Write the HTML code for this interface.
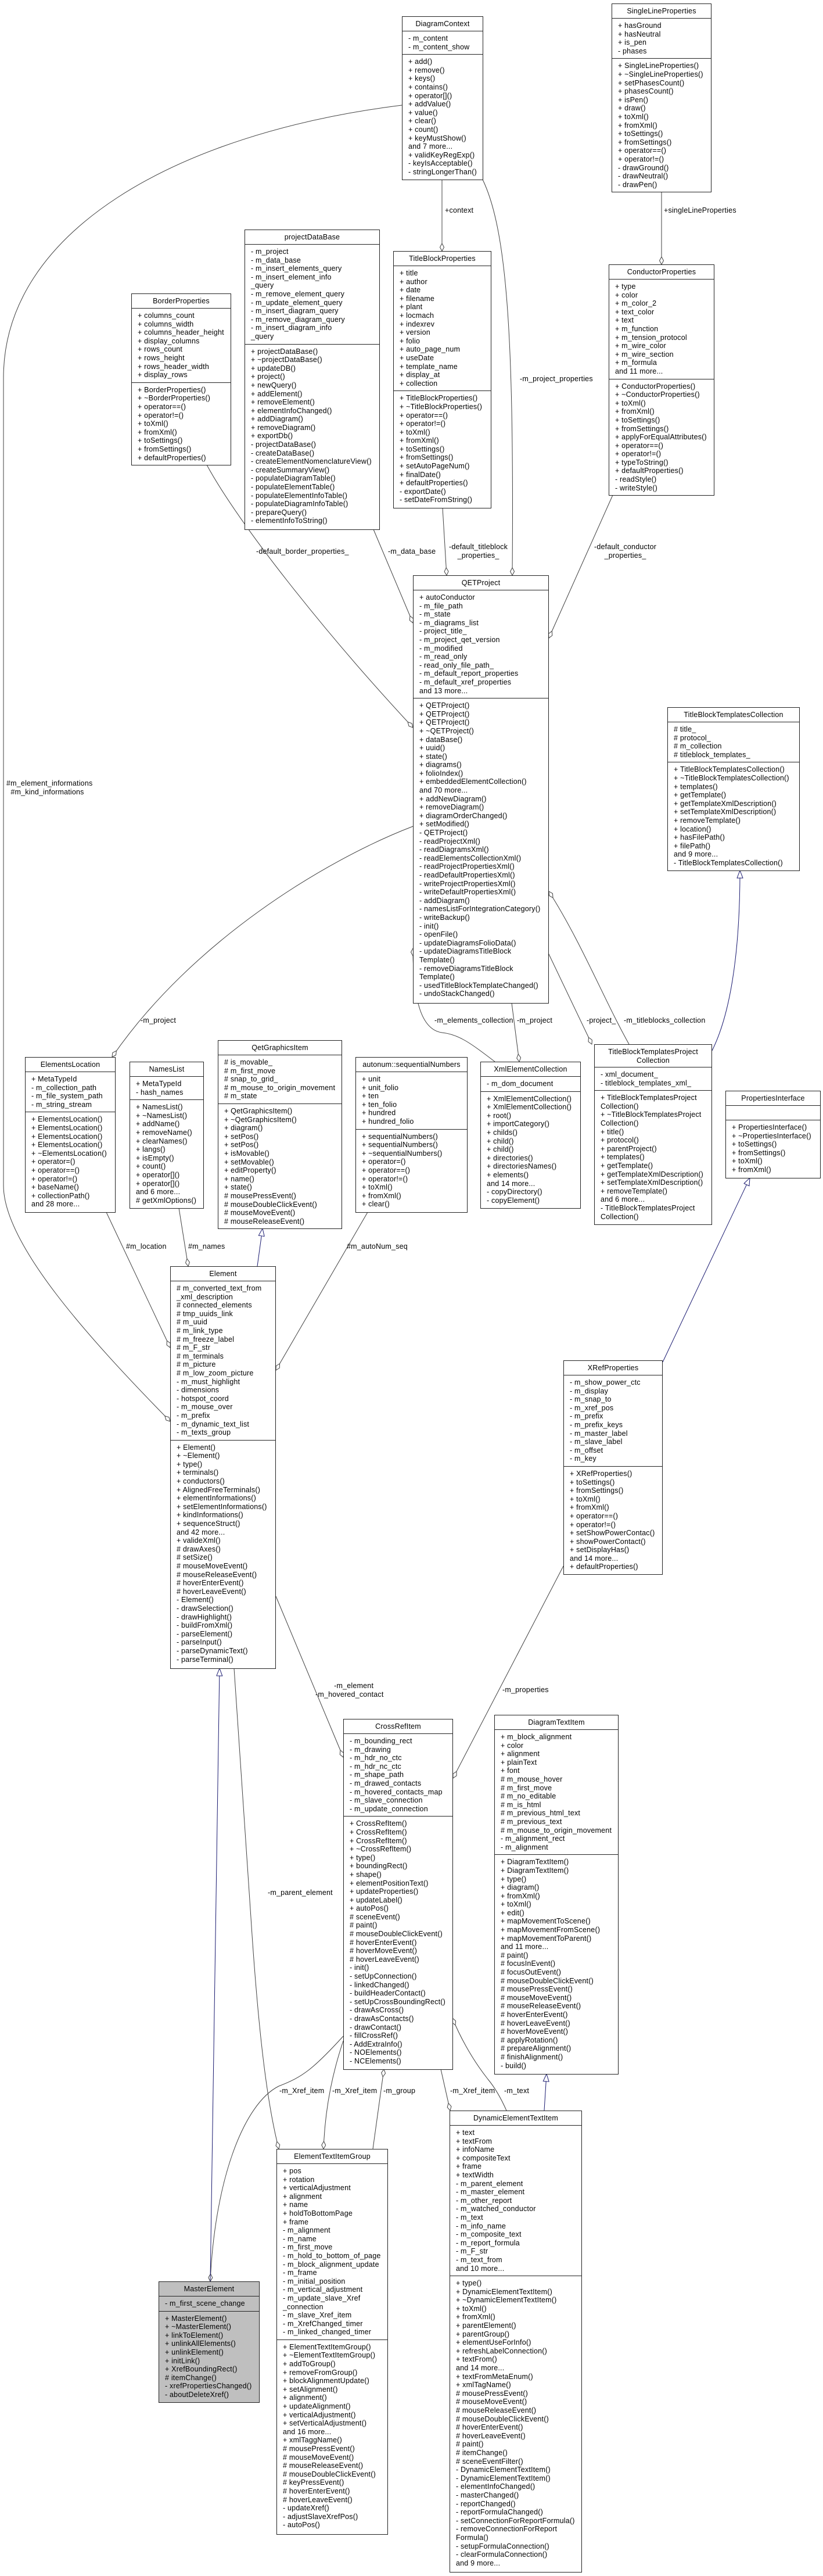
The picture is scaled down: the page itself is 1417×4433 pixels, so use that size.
<!DOCTYPE html>
<html><head><meta charset="utf-8">
<style>
body{margin:0;background:#fff;}
#c{position:relative;width:1417px;height:4433px;overflow:hidden;background:#fff;font-family:"Liberation Sans",sans-serif;}
.b{position:absolute;border:1px solid #222;background:#fff;font-size:12.5px;letter-spacing:.2px;display:flex;flex-direction:column;box-sizing:border-box;color:#000}
.h{height:24px;line-height:24px;text-align:center;border-bottom:1px solid #222;flex:none;white-space:nowrap}
.s{padding:5px 0 5px 10px;line-height:14.6px;white-space:nowrap;border-bottom:1px solid #222;flex:none}
.s:last-child{flex:1;border-bottom:none}
.l{position:absolute;font-size:12.5px;letter-spacing:.2px;white-space:nowrap;line-height:14.6px;color:#000}
svg{position:absolute;left:0;top:0}
</style></head><body><div id="c">
<svg width="1417" height="4433">
<defs>
<marker id="d" markerUnits="userSpaceOnUse" markerWidth="14" markerHeight="8" viewBox="0 0 14 8" refX="13.5" refY="4" orient="auto"><polygon points="0.5,4 7,0.5 13.5,4 7,7.5" fill="#fff" stroke="#404040" stroke-width="1"/></marker>
<marker id="t" markerUnits="userSpaceOnUse" markerWidth="14" markerHeight="11" viewBox="0 0 14 11" refX="13.5" refY="5.5" orient="auto"><polygon points="0.5,0.5 13.5,5.5 0.5,10.5" fill="#fff" stroke="#191970" stroke-width="1"/></marker>
</defs>
<g fill="none" stroke="#404040" stroke-width="1">
<path d="M692,181 C300,230 6,400 6,650 L6,2040 C6,2140 150,2300 293,2446" marker-end="url(#d)"/>
<path d="M643,911 L711,1072" marker-end="url(#d)"/>
<path d="M356,800 C410,900 560,1090 711,1252" marker-end="url(#d)"/>
<path d="M762,874 L769,990" marker-end="url(#d)"/>
<path d="M761,309 L761,432" marker-end="url(#d)"/>
<path d="M831,309 C875,400 885,600 882,990" marker-end="url(#d)"/>
<path d="M1139,330 L1139,455" marker-end="url(#d)"/>
<path d="M1055,852 L945,1098" marker-end="url(#d)"/>
<path d="M711,1422 C560,1480 330,1620 193,1819" marker-end="url(#d)"/>
<path d="M852,1827 C810,1795 790,1780 761,1777 C725,1772 711,1720 711,1632" marker-end="url(#d)"/>
<path d="M881,1726 L894,1827" marker-end="url(#d)"/>
<path d="M1083,1797 C1040,1720 1000,1620 945,1534" marker-end="url(#d)"/>
<path d="M944,1640 L1019,1797" marker-end="url(#d)"/>
<path d="M183,2086 L293,2319" marker-end="url(#d)"/>
<path d="M308,2079 L324,2179" marker-end="url(#d)"/>
<path d="M633,2086 L475,2358" marker-end="url(#d)"/>
<path d="M475,2747 L591,3024" marker-end="url(#d)"/>
<path d="M403,2871 L432,3300 C445,3500 460,3620 480,3698" marker-end="url(#d)"/>
<path d="M591,3504 C540,3560 520,3575 480,3590 C420,3620 370,3750 362,3926" marker-end="url(#d)"/>
<path d="M591,3512 C575,3560 560,3620 557,3698" marker-end="url(#d)"/>
<path d="M642,3698 L661,3561" marker-end="url(#d)"/>
<path d="M872,3632 C860,3605 850,3590 840,3578 C810,3540 790,3500 779,3473" marker-end="url(#d)"/>
<path d="M759,3561 L775,3632" marker-end="url(#d)"/>
<path d="M970,2695 L780,3060" marker-end="url(#d)"/>
</g>
<g fill="none" stroke="#191970" stroke-width="1">
<path d="M1226,1808 C1255,1750 1274,1650 1274,1498" marker-end="url(#t)"/>
<path d="M1141,2344 L1291,2027" marker-end="url(#t)"/>
<path d="M443,2179 L452,2114" marker-end="url(#t)"/>
<path d="M362,3926 L378,2871" marker-end="url(#t)"/>
<path d="M937,3632 L941,3569" marker-end="url(#t)"/>
</g>
</svg>

<div class="l" style="left:766px;top:355px">+context</div>
<div class="l" style="left:1143px;top:355px">+singleLineProperties</div>
<div class="l" style="left:895px;top:645px">-m_project_properties</div>
<div class="l" style="left:773px;top:934px;text-align:center">-default_titleblock<br>_properties_</div>
<div class="l" style="left:1023px;top:934px;text-align:center">-default_conductor<br>_properties_</div>
<div class="l" style="left:441px;top:942px">-default_border_properties_</div>
<div class="l" style="left:668px;top:942px">-m_data_base</div>
<div class="l" style="left:11px;top:1341px">#m_element_informations<br>&nbsp;&nbsp;#m_kind_informations</div>
<div class="l" style="left:242px;top:1749px">-m_project</div>
<div class="l" style="left:748px;top:1749px">-m_elements_collection</div>
<div class="l" style="left:890px;top:1749px">-m_project</div>
<div class="l" style="left:1010px;top:1749px">-project_</div>
<div class="l" style="left:1074px;top:1749px">-m_titleblocks_collection</div>
<div class="l" style="left:217px;top:2138px">#m_location</div>
<div class="l" style="left:324px;top:2138px">#m_names</div>
<div class="l" style="left:597px;top:2138px">#m_autoNum_seq</div>
<div class="l" style="left:543px;top:2894px;text-align:center">&nbsp;&nbsp;&nbsp;&nbsp;-m_element<br>-m_hovered_contact</div>
<div class="l" style="left:865px;top:2901px">-m_properties</div>
<div class="l" style="left:461px;top:3250px">-m_parent_element</div>
<div class="l" style="left:481px;top:3591px">-m_Xref_item</div>
<div class="l" style="left:572px;top:3591px">-m_Xref_item</div>
<div class="l" style="left:660px;top:3591px">-m_group</div>
<div class="l" style="left:775px;top:3591px">-m_Xref_item</div>
<div class="l" style="left:868px;top:3591px">-m_text</div>

<div class="b" style="left:692px;top:28px;width:140px;height:282px"><div class="h">DiagramContext</div>
<div class="s">- m_content<br>- m_content_show</div>
<div class="s">+ add()<br>+ remove()<br>+ keys()<br>+ contains()<br>+ operator[]()<br>+ addValue()<br>+ value()<br>+ clear()<br>+ count()<br>+ keyMustShow()<br>and 7 more...<br>+ validKeyRegExp()<br>- keyIsAcceptable()<br>- stringLongerThan()</div></div>

<div class="b" style="left:1053px;top:6px;width:172px;height:325px"><div class="h">SingleLineProperties</div>
<div class="s">+ hasGround<br>+ hasNeutral<br>+ is_pen<br>- phases</div>
<div class="s">+ SingleLineProperties()<br>+ ~SingleLineProperties()<br>+ setPhasesCount()<br>+ phasesCount()<br>+ isPen()<br>+ draw()<br>+ toXml()<br>+ fromXml()<br>+ toSettings()<br>+ fromSettings()<br>+ operator==()<br>+ operator!=()<br>- drawGround()<br>- drawNeutral()<br>- drawPen()</div></div>

<div class="b" style="left:677px;top:432px;width:169px;height:443px"><div class="h">TitleBlockProperties</div>
<div class="s">+ title<br>+ author<br>+ date<br>+ filename<br>+ plant<br>+ locmach<br>+ indexrev<br>+ version<br>+ folio<br>+ auto_page_num<br>+ useDate<br>+ template_name<br>+ display_at<br>+ collection</div>
<div class="s">+ TitleBlockProperties()<br>+ ~TitleBlockProperties()<br>+ operator==()<br>+ operator!=()<br>+ toXml()<br>+ fromXml()<br>+ toSettings()<br>+ fromSettings()<br>+ setAutoPageNum()<br>+ finalDate()<br>+ defaultProperties()<br>- exportDate()<br>- setDateFromString()</div></div>

<div class="b" style="left:226px;top:505px;width:172px;height:296px"><div class="h">BorderProperties</div>
<div class="s">+ columns_count<br>+ columns_width<br>+ columns_header_height<br>+ display_columns<br>+ rows_count<br>+ rows_height<br>+ rows_header_width<br>+ display_rows</div>
<div class="s">+ BorderProperties()<br>+ ~BorderProperties()<br>+ operator==()<br>+ operator!=()<br>+ toXml()<br>+ fromXml()<br>+ toSettings()<br>+ fromSettings()<br>+ defaultProperties()</div></div>

<div class="b" style="left:421px;top:395px;width:233px;height:517px"><div class="h">projectDataBase</div>
<div class="s">- m_project<br>- m_data_base<br>- m_insert_elements_query<br>- m_insert_element_info<br>_query<br>- m_remove_element_query<br>- m_update_element_query<br>- m_insert_diagram_query<br>- m_remove_diagram_query<br>- m_insert_diagram_info<br>_query</div>
<div class="s">+ projectDataBase()<br>+ ~projectDataBase()<br>+ updateDB()<br>+ project()<br>+ newQuery()<br>+ addElement()<br>+ removeElement()<br>+ elementInfoChanged()<br>+ addDiagram()<br>+ removeDiagram()<br>+ exportDb()<br>- projectDataBase()<br>- createDataBase()<br>- createElementNomenclatureView()<br>- createSummaryView()<br>- populateDiagramTable()<br>- populateElementTable()<br>- populateElementInfoTable()<br>- populateDiagramInfoTable()<br>- prepareQuery()<br>- elementInfoToString()</div></div>

<div class="b" style="left:1048px;top:455px;width:182px;height:398px"><div class="h">ConductorProperties</div>
<div class="s">+ type<br>+ color<br>+ m_color_2<br>+ text_color<br>+ text<br>+ m_function<br>+ m_tension_protocol<br>+ m_wire_color<br>+ m_wire_section<br>+ m_formula<br>and 11 more...</div>
<div class="s">+ ConductorProperties()<br>+ ~ConductorProperties()<br>+ toXml()<br>+ fromXml()<br>+ toSettings()<br>+ fromSettings()<br>+ applyForEqualAttributes()<br>+ operator==()<br>+ operator!=()<br>+ typeToString()<br>+ defaultProperties()<br>- readStyle()<br>- writeStyle()</div></div>

<div class="b" style="left:711px;top:990px;width:234px;height:737px"><div class="h">QETProject</div>
<div class="s">+ autoConductor<br>- m_file_path<br>- m_state<br>- m_diagrams_list<br>- project_title_<br>- m_project_qet_version<br>- m_modified<br>- m_read_only<br>- read_only_file_path_<br>- m_default_report_properties<br>- m_default_xref_properties<br>and 13 more...</div>
<div class="s">+ QETProject()<br>+ QETProject()<br>+ QETProject()<br>+ ~QETProject()<br>+ dataBase()<br>+ uuid()<br>+ state()<br>+ diagrams()<br>+ folioIndex()<br>+ embeddedElementCollection()<br>and 70 more...<br>+ addNewDiagram()<br>+ removeDiagram()<br>+ diagramOrderChanged()<br>+ setModified()<br>- QETProject()<br>- readProjectXml()<br>- readDiagramsXml()<br>- readElementsCollectionXml()<br>- readProjectPropertiesXml()<br>- readDefaultPropertiesXml()<br>- writeProjectPropertiesXml()<br>- writeDefaultPropertiesXml()<br>- addDiagram()<br>- namesListForIntegrationCategory()<br>- writeBackup()<br>- init()<br>- openFile()<br>- updateDiagramsFolioData()<br>- updateDiagramsTitleBlock<br>Template()<br>- removeDiagramsTitleBlock<br>Template()<br>- usedTitleBlockTemplateChanged()<br>- undoStackChanged()</div></div>

<div class="b" style="left:1149px;top:1217px;width:228px;height:282px"><div class="h">TitleBlockTemplatesCollection</div>
<div class="s"># title_<br># protocol_<br># m_collection<br># titleblock_templates_</div>
<div class="s">+ TitleBlockTemplatesCollection()<br>+ ~TitleBlockTemplatesCollection()<br>+ templates()<br>+ getTemplate()<br>+ getTemplateXmlDescription()<br>+ setTemplateXmlDescription()<br>+ removeTemplate()<br>+ location()<br>+ hasFilePath()<br>+ filePath()<br>and 9 more...<br>- TitleBlockTemplatesCollection()</div></div>

<div class="b" style="left:43px;top:1819px;width:156px;height:268px"><div class="h">ElementsLocation</div>
<div class="s">+ MetaTypeId<br>- m_collection_path<br>- m_file_system_path<br>- m_string_stream</div>
<div class="s">+ ElementsLocation()<br>+ ElementsLocation()<br>+ ElementsLocation()<br>+ ElementsLocation()<br>+ ~ElementsLocation()<br>+ operator=()<br>+ operator==()<br>+ operator!=()<br>+ baseName()<br>+ collectionPath()<br>and 28 more...</div></div>

<div class="b" style="left:223px;top:1827px;width:128px;height:253px"><div class="h">NamesList</div>
<div class="s">+ MetaTypeId<br>- hash_names</div>
<div class="s">+ NamesList()<br>+ ~NamesList()<br>+ addName()<br>+ removeName()<br>+ clearNames()<br>+ langs()<br>+ isEmpty()<br>+ count()<br>+ operator[]()<br>+ operator[]()<br>and 6 more...<br># getXmlOptions()</div></div>

<div class="b" style="left:375px;top:1790px;width:214px;height:325px"><div class="h">QetGraphicsItem</div>
<div class="s"># is_movable_<br># m_first_move<br># snap_to_grid_<br># m_mouse_to_origin_movement<br># m_state</div>
<div class="s">+ QetGraphicsItem()<br>+ ~QetGraphicsItem()<br>+ diagram()<br>+ setPos()<br>+ setPos()<br>+ isMovable()<br>+ setMovable()<br>+ editProperty()<br>+ name()<br>+ state()<br># mousePressEvent()<br># mouseDoubleClickEvent()<br># mouseMoveEvent()<br># mouseReleaseEvent()</div></div>

<div class="b" style="left:612px;top:1819px;width:193px;height:268px"><div class="h">autonum::sequentialNumbers</div>
<div class="s">+ unit<br>+ unit_folio<br>+ ten<br>+ ten_folio<br>+ hundred<br>+ hundred_folio</div>
<div class="s">+ sequentialNumbers()<br>+ sequentialNumbers()<br>+ ~sequentialNumbers()<br>+ operator=()<br>+ operator==()<br>+ operator!=()<br>+ toXml()<br>+ fromXml()<br>+ clear()</div></div>

<div class="b" style="left:827px;top:1827px;width:173px;height:253px"><div class="h">XmlElementCollection</div>
<div class="s">- m_dom_document</div>
<div class="s">+ XmlElementCollection()<br>+ XmlElementCollection()<br>+ root()<br>+ importCategory()<br>+ childs()<br>+ child()<br>+ child()<br>+ directories()<br>+ directoriesNames()<br>+ elements()<br>and 14 more...<br>- copyDirectory()<br>- copyElement()</div></div>

<div class="b" style="left:1023px;top:1797px;width:203px;height:311px"><div class="h" style="height:39px;line-height:14.6px;padding-top:5px;box-sizing:border-box">TitleBlockTemplatesProject<br>Collection</div>
<div class="s">- xml_document_<br>- titleblock_templates_xml_</div>
<div class="s">+ TitleBlockTemplatesProject<br>Collection()<br>+ ~TitleBlockTemplatesProject<br>Collection()<br>+ title()<br>+ protocol()<br>+ parentProject()<br>+ templates()<br>+ getTemplate()<br>+ getTemplateXmlDescription()<br>+ setTemplateXmlDescription()<br>+ removeTemplate()<br>and 6 more...<br>- TitleBlockTemplatesProject<br>Collection()</div></div>

<div class="b" style="left:1249px;top:1877px;width:164px;height:151px"><div class="h">PropertiesInterface</div>
<div class="s" style="height:25px;box-sizing:border-box"></div>
<div class="s">+ PropertiesInterface()<br>+ ~PropertiesInterface()<br>+ toSettings()<br>+ fromSettings()<br>+ toXml()<br>+ fromXml()</div></div>

<div class="b" style="left:293px;top:2179px;width:182px;height:693px"><div class="h">Element</div>
<div class="s"># m_converted_text_from<br>_xml_description<br># connected_elements<br># tmp_uuids_link<br># m_uuid<br># m_link_type<br># m_freeze_label<br># m_F_str<br># m_terminals<br># m_picture<br># m_low_zoom_picture<br>- m_must_highlight<br>- dimensions<br>- hotspot_coord<br>- m_mouse_over<br>- m_prefix<br>- m_dynamic_text_list<br>- m_texts_group</div>
<div class="s">+ Element()<br>+ ~Element()<br>+ type()<br>+ terminals()<br>+ conductors()<br>+ AlignedFreeTerminals()<br>+ elementInformations()<br>+ setElementInformations()<br>+ kindInformations()<br>+ sequenceStruct()<br>and 42 more...<br>+ valideXml()<br># drawAxes()<br># setSize()<br># mouseMoveEvent()<br># mouseReleaseEvent()<br># hoverEnterEvent()<br># hoverLeaveEvent()<br>- Element()<br>- drawSelection()<br>- drawHighlight()<br>- buildFromXml()<br>- parseElement()<br>- parseInput()<br>- parseDynamicText()<br>- parseTerminal()</div></div>

<div class="b" style="left:970px;top:2341px;width:171px;height:369px"><div class="h">XRefProperties</div>
<div class="s">- m_show_power_ctc<br>- m_display<br>- m_snap_to<br>- m_xref_pos<br>- m_prefix<br>- m_prefix_keys<br>- m_master_label<br>- m_slave_label<br>- m_offset<br>- m_key</div>
<div class="s">+ XRefProperties()<br>+ toSettings()<br>+ fromSettings()<br>+ toXml()<br>+ fromXml()<br>+ operator==()<br>+ operator!=()<br>+ setShowPowerContac()<br>+ showPowerContact()<br>+ setDisplayHas()<br>and 14 more...<br>+ defaultProperties()</div></div>

<div class="b" style="left:591px;top:2958px;width:189px;height:604px"><div class="h">CrossRefItem</div>
<div class="s">- m_bounding_rect<br>- m_drawing<br>- m_hdr_no_ctc<br>- m_hdr_nc_ctc<br>- m_shape_path<br>- m_drawed_contacts<br>- m_hovered_contacts_map<br>- m_slave_connection<br>- m_update_connection</div>
<div class="s">+ CrossRefItem()<br>+ CrossRefItem()<br>+ CrossRefItem()<br>+ ~CrossRefItem()<br>+ type()<br>+ boundingRect()<br>+ shape()<br>+ elementPositionText()<br>+ updateProperties()<br>+ updateLabel()<br>+ autoPos()<br># sceneEvent()<br># paint()<br># mouseDoubleClickEvent()<br># hoverEnterEvent()<br># hoverMoveEvent()<br># hoverLeaveEvent()<br>- init()<br>- setUpConnection()<br>- linkedChanged()<br>- buildHeaderContact()<br>- setUpCrossBoundingRect()<br>- drawAsCross()<br>- drawAsContacts()<br>- drawContact()<br>- fillCrossRef()<br>- AddExtraInfo()<br>- NOElements()<br>- NCElements()</div></div>

<div class="b" style="left:851px;top:2951px;width:214px;height:619px"><div class="h">DiagramTextItem</div>
<div class="s">+ m_block_alignment<br>+ color<br>+ alignment<br>+ plainText<br>+ font<br># m_mouse_hover<br># m_first_move<br># m_no_editable<br># m_is_html<br># m_previous_html_text<br># m_previous_text<br># m_mouse_to_origin_movement<br>- m_alignment_rect<br>- m_alignment</div>
<div class="s">+ DiagramTextItem()<br>+ DiagramTextItem()<br>+ type()<br>+ diagram()<br>+ fromXml()<br>+ toXml()<br>+ edit()<br>+ mapMovementToScene()<br>+ mapMovementFromScene()<br>+ mapMovementToParent()<br>and 11 more...<br># paint()<br># focusInEvent()<br># focusOutEvent()<br># mouseDoubleClickEvent()<br># mousePressEvent()<br># mouseMoveEvent()<br># mouseReleaseEvent()<br># hoverEnterEvent()<br># hoverLeaveEvent()<br># hoverMoveEvent()<br># applyRotation()<br># prepareAlignment()<br># finishAlignment()<br>- build()</div></div>

<div class="b" style="left:476px;top:3698px;width:192px;height:664px"><div class="h">ElementTextItemGroup</div>
<div class="s">+ pos<br>+ rotation<br>+ verticalAdjustment<br>+ alignment<br>+ name<br>+ holdToBottomPage<br>+ frame<br>- m_alignment<br>- m_name<br>- m_first_move<br>- m_hold_to_bottom_of_page<br>- m_block_alignment_update<br>- m_frame<br>- m_initial_position<br>- m_vertical_adjustment<br>- m_update_slave_Xref<br>_connection<br>- m_slave_Xref_item<br>- m_XrefChanged_timer<br>- m_linked_changed_timer</div>
<div class="s">+ ElementTextItemGroup()<br>+ ~ElementTextItemGroup()<br>+ addToGroup()<br>+ removeFromGroup()<br>+ blockAlignmentUpdate()<br>+ setAlignment()<br>+ alignment()<br>+ updateAlignment()<br>+ verticalAdjustment()<br>+ setVerticalAdjustment()<br>and 16 more...<br>+ xmlTaggName()<br># mousePressEvent()<br># mouseMoveEvent()<br># mouseReleaseEvent()<br># mouseDoubleClickEvent()<br># keyPressEvent()<br># hoverEnterEvent()<br># hoverLeaveEvent()<br>- updateXref()<br>- adjustSlaveXrefPos()<br>- autoPos()</div></div>

<div class="b" style="left:273px;top:3926px;width:174px;height:209px;background:#bfbfbf"><div class="h">MasterElement</div>
<div class="s">- m_first_scene_change</div>
<div class="s">+ MasterElement()<br>+ ~MasterElement()<br>+ linkToElement()<br>+ unlinkAllElements()<br>+ unlinkElement()<br>+ initLink()<br>+ XrefBoundingRect()<br># itemChange()<br>- xrefPropertiesChanged()<br>- aboutDeleteXref()</div></div>

<div class="b" style="left:774px;top:3632px;width:228px;height:795px"><div class="h">DynamicElementTextItem</div>
<div class="s">+ text<br>+ textFrom<br>+ infoName<br>+ compositeText<br>+ frame<br>+ textWidth<br>- m_parent_element<br>- m_master_element<br>- m_other_report<br>- m_watched_conductor<br>- m_text<br>- m_info_name<br>- m_composite_text<br>- m_report_formula<br>- m_F_str<br>- m_text_from<br>and 10 more...</div>
<div class="s">+ type()<br>+ DynamicElementTextItem()<br>+ ~DynamicElementTextItem()<br>+ toXml()<br>+ fromXml()<br>+ parentElement()<br>+ parentGroup()<br>+ elementUseForInfo()<br>+ refreshLabelConnection()<br>+ textFrom()<br>and 14 more...<br>+ textFromMetaEnum()<br>+ xmlTagName()<br># mousePressEvent()<br># mouseMoveEvent()<br># mouseReleaseEvent()<br># mouseDoubleClickEvent()<br># hoverEnterEvent()<br># hoverLeaveEvent()<br># paint()<br># itemChange()<br># sceneEventFilter()<br>- DynamicElementTextItem()<br>- DynamicElementTextItem()<br>- elementInfoChanged()<br>- masterChanged()<br>- reportChanged()<br>- reportFormulaChanged()<br>- setConnectionForReportFormula()<br>- removeConnectionForReport<br>Formula()<br>- setupFormulaConnection()<br>- clearFormulaConnection()<br>and 9 more...</div></div>

</div></body></html>
